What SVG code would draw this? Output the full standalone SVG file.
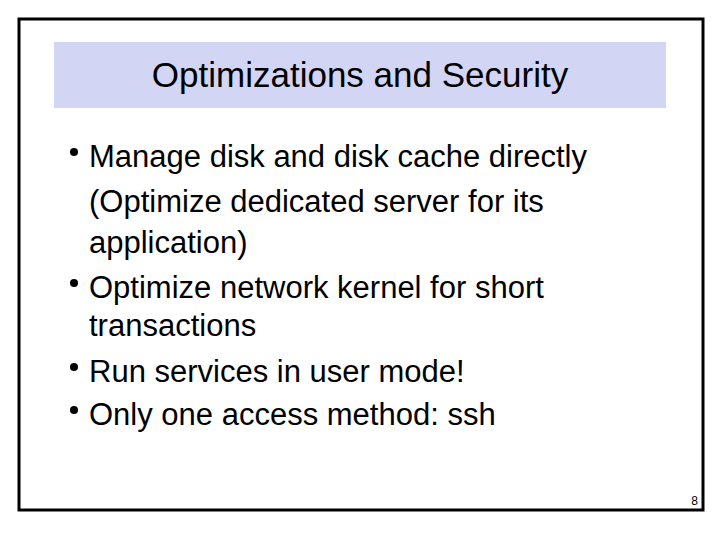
<svg xmlns="http://www.w3.org/2000/svg" width="720" height="540" viewBox="0 0 720 540">
<style>
text{font-family:"Liberation Sans",Arial,sans-serif;fill:#000}
.b{font-size:31px}
</style>
<rect width="720" height="540" fill="#fff"/>
<rect x="19" y="19" width="684" height="491" fill="none" stroke="#000" stroke-width="3"/>
<g id="title"><rect x="54" y="42" width="612" height="66" fill="#D3D5F5"/>
<text x="360" y="87" font-size="35" text-anchor="middle">Optimizations and Security</text></g>
<g id="body">
<circle cx="74" cy="152" r="4"/><text class="b" x="89" y="167">Manage disk and disk cache directly</text>
<text class="b" x="89" y="212">(Optimize dedicated server for its</text>
<text class="b" x="89" y="253">application)</text>
<circle cx="74" cy="283" r="4"/><text class="b" x="89" y="298">Optimize network kernel for short</text>
<text class="b" x="89" y="336">transactions</text>
<circle cx="74" cy="367" r="4"/><text class="b" x="89" y="382">Run services in user mode!</text>
<circle cx="74" cy="410" r="4"/><text class="b" x="89" y="425">Only one access method: ssh</text>
</g>
<text x="698" y="505" font-size="12" text-anchor="end">8</text>
</svg>
